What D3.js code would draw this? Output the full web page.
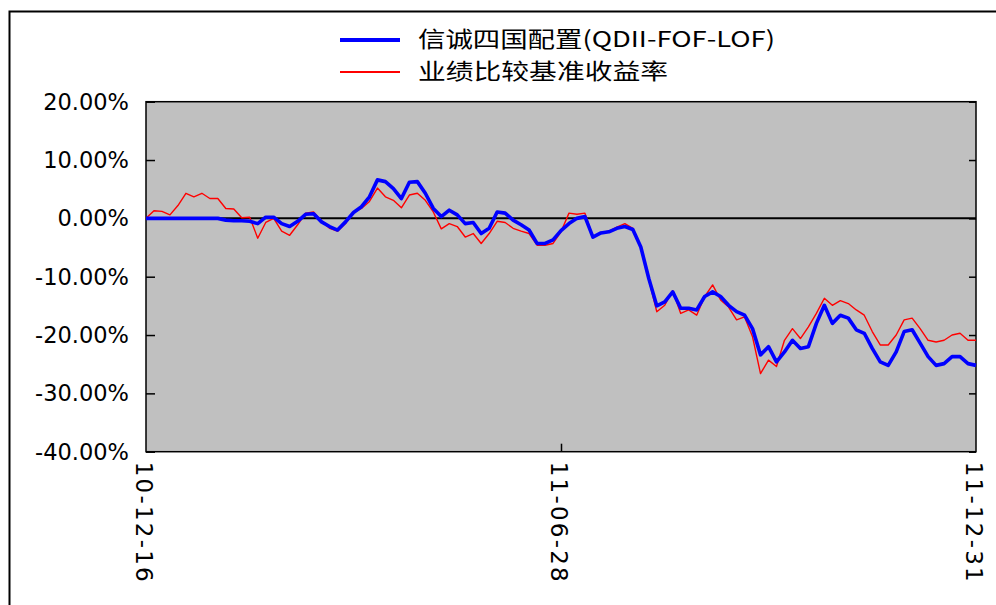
<!DOCTYPE html>
<html><head><meta charset="utf-8">
<script src="https://cdn.jsdelivr.net/npm/d3@7"></script>
<style>
html,body{margin:0;padding:0;background:#fff;}
svg{display:block;}
</style></head>
<body>
<svg id="chart" width="996" height="605"></svg>
<script>
const seriesNames = ["信诚四国配置(QDII-FOF-LOF)", "业绩比较基准收益率"];
const legendWidths = [357, 250];
const xLabels = ["10-12-16", "11-06-28", "11-12-31"];
const xLabelIndex = [0, 52, 104];
const yTicks = [20, 10, 0, -10, -20, -30, -40];
const fundValues = [0,0,0,0,0,0,0,0,0,0,-0.3,-0.4,-0.4,-0.5,-0.9,0.2,0.2,-0.9,-1.4,-0.5,0.7,0.8,-0.6,-1.4,-2.0,-0.6,1.0,2.0,3.7,6.6,6.3,5.1,3.4,6.2,6.3,4.3,1.7,0.3,1.4,0.6,-0.9,-0.7,-2.6,-1.7,1.1,0.9,-0.3,-1.1,-2.0,-4.3,-4.3,-3.7,-2.1,-0.9,0,0.3,-3.2,-2.5,-2.3,-1.7,-1.4,-1.9,-4.9,-10.3,-15.0,-14.3,-12.6,-15.4,-15.4,-15.7,-13.4,-12.6,-13.4,-14.9,-16.0,-16.6,-18.9,-23.4,-22.0,-24.6,-22.9,-20.9,-22.3,-22.0,-18.0,-14.9,-18.0,-16.6,-17.1,-19.1,-19.7,-22.3,-24.6,-25.2,-22.9,-19.4,-19.1,-21.4,-23.7,-25.2,-24.9,-23.7,-23.7,-24.9,-25.2];
const benchValues = [0,1.3,1.2,0.6,2.2,4.3,3.7,4.3,3.4,3.4,1.7,1.6,0.1,0.2,-3.4,-0.7,0,-2.2,-2.9,-1.1,0.9,1.1,-0.5,-1.7,-2.2,-0.9,1.0,1.7,2.9,5.2,3.7,3.1,1.8,4.0,4.3,3.1,1.1,-1.8,-0.9,-1.4,-3.2,-2.6,-4.3,-2.6,-0.5,-0.7,-1.7,-2.2,-2.6,-4.6,-4.6,-4.3,-2.3,0.9,0.7,0.9,-3.2,-2.4,-2.2,-1.5,-0.9,-1.7,-5.0,-10.5,-16.0,-14.9,-12.4,-16.3,-15.7,-16.6,-13.4,-11.4,-14.0,-15.2,-17.4,-16.9,-20.3,-26.6,-24.3,-25.4,-20.9,-18.9,-20.6,-18.6,-16.3,-13.7,-14.9,-14.1,-14.6,-15.7,-16.6,-19.4,-21.7,-21.7,-20.0,-17.4,-17.1,-18.9,-20.9,-21.2,-20.9,-20.0,-19.7,-20.9,-20.9];
const seriesColors = ["#0000ff", "#ff0000"];

const svg = d3.select("#chart");
const L = 146, R = 976, T = 101.7, B = 451.7;
const x = d3.scaleLinear().domain([0, fundValues.length - 1]).range([L, R]);
const y = d3.scaleLinear().domain([-40, 20]).range([B, T]);

// outer frame
svg.append("path").attr("d", `M9.5,605 V11.5 H996`).attr("fill","none").attr("stroke","#000").attr("stroke-width",2);

// plot background
svg.append("rect").attr("x", L).attr("y", T).attr("width", R - L).attr("height", B - T)
  .attr("fill", "#c0c0c0").attr("stroke", "#000").attr("stroke-width", 1.5);

// y ticks (inside, both sides)
const yAxisL = d3.axisRight(y).tickValues(yTicks).tickSize(9).tickFormat("");
svg.append("g").attr("transform", `translate(${L},0)`).call(yAxisL)
  .call(g => g.select(".domain").remove()).selectAll("line").attr("stroke","#000").attr("stroke-width",1.5);
const yAxisR = d3.axisLeft(y).tickValues(yTicks).tickSize(7).tickFormat("");
svg.append("g").attr("transform", `translate(${R},0)`).call(yAxisR)
  .call(g => g.select(".domain").remove()).selectAll("line").attr("stroke","#000").attr("stroke-width",1.5);

// y labels
svg.append("g").selectAll("text").data(yTicks).join("text")
  .attr("x", 129).attr("y", d => y(d)).attr("dy", "0.36em")
  .attr("text-anchor", "end").attr("font-family", "DejaVu Sans, sans-serif").attr("font-size", 22.5)
  .attr("fill", "#000").text(d => d.toFixed(2) + "%");

// x tick (middle)
const xAxis = d3.axisTop(x).tickValues([xLabelIndex[1]]).tickSize(8).tickFormat("");
svg.append("g").attr("transform", `translate(0,${B})`).call(xAxis)
  .call(g => g.select(".domain").remove()).selectAll("line").attr("stroke","#000").attr("stroke-width",1.5);

// x labels rotated
svg.append("g").selectAll("text").data(xLabelIndex).join("text")
  .attr("transform", d => `translate(${x(d) - 2},${B + 10}) rotate(90)`)
  .attr("dy", "0.36em").attr("text-anchor", "start")
  .attr("font-family", "DejaVu Sans, sans-serif").attr("font-size", 23)
  .attr("textLength", 120).attr("lengthAdjust", "spacing")
  .attr("fill", "#000").text((d, i) => xLabels[i]);

// zero line
svg.append("line").attr("x1", L).attr("x2", R).attr("y1", y(0)).attr("y2", y(0))
  .attr("stroke", "#000").attr("stroke-width", 2);

const line = d3.line().x((d, i) => x(i)).y(d => y(d));
svg.append("path").datum(benchValues).attr("d", line).attr("fill", "none")
  .attr("stroke", seriesColors[1]).attr("stroke-width", 1.4).attr("stroke-linejoin","round");
svg.append("path").datum(fundValues).attr("d", line).attr("fill", "none")
  .attr("stroke", seriesColors[0]).attr("stroke-width", 3.6).attr("stroke-linejoin","round");

// legend
const leg = svg.append("g");
const legY = [39, 71];
leg.selectAll("line").data(seriesNames).join("line")
  .attr("x1", 340).attr("x2", 400).attr("y1", (d, i) => legY[i] + 1).attr("y2", (d, i) => legY[i] + 1)
  .attr("stroke", (d, i) => seriesColors[i]).attr("stroke-width", (d, i) => i === 0 ? 4 : 2);
leg.selectAll("text").data(seriesNames).join("text")
  .attr("x", 418).attr("y", (d, i) => legY[i]).attr("dy", "0.36em")
  .attr("font-family", "Noto Sans CJK SC, sans-serif").attr("font-size", 22)
  .attr("textLength", (d, i) => legendWidths[i]).attr("lengthAdjust", "spacingAndGlyphs")
  .attr("fill", "#000").text(d => d);
</script>
</body></html>
